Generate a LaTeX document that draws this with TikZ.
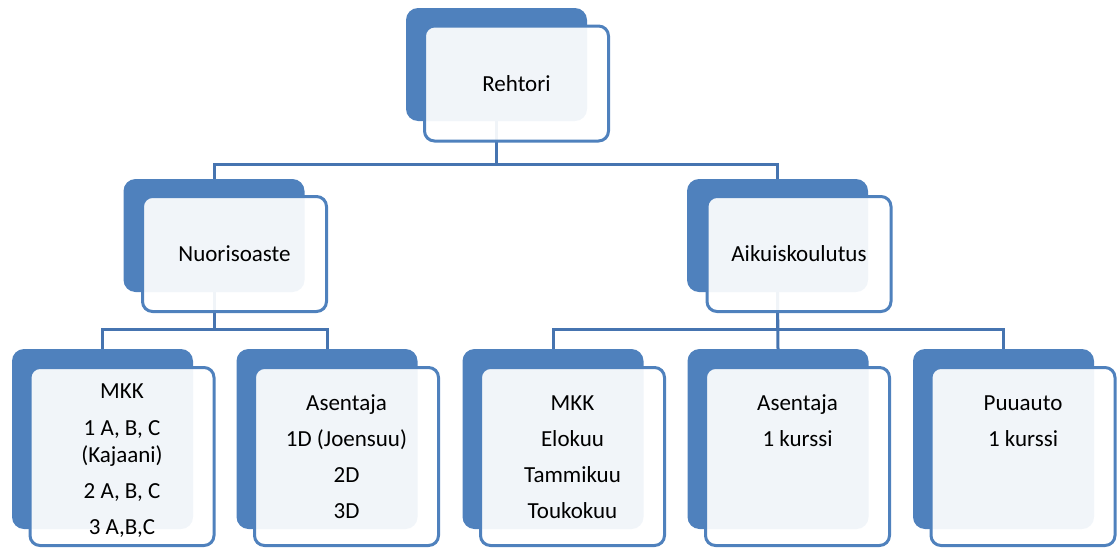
\documentclass[tikz,border=0pt]{standalone}
\usepackage{fontspec}
\setmainfont{Carlito}
\definecolor{boxblue}{HTML}{4F81BD}
\definecolor{linkblue}{HTML}{4674B0}
\pgfdeclarelayer{bg}
\pgfsetlayers{bg,main}
\tikzset{
  backbox/.style={fill=boxblue, draw=none, rounded corners=12pt, inner sep=0pt, minimum width=181pt},
  frontbox/.style={fill=white, fill opacity=0.92, text opacity=1, draw=boxblue, line width=3pt,
    rounded corners=10pt, inner sep=0pt, minimum width=184pt, font=\fontsize{23}{26}\selectfont},
  body/.style={anchor=north, align=center, inner sep=0pt,
    font=\fontsize{23}{26}\selectfont},
  link/.style={draw=linkblue, line width=3pt},
}
\begin{document}
\begin{tikzpicture}[x=1pt,y=-1pt]
\useasboundingbox (0,0) rectangle (1120,549);

% top level
\node[backbox, minimum height=113pt] (rB) at (496.5,64.5) {};
\node[frontbox, minimum height=115pt] (r) at (516.5,83.5) {Rehtori};

% second level
\node[backbox, minimum height=113pt] (nB) at (214,235.5) {};
\node[frontbox, minimum height=115pt] (n) at (234.5,254) {Nuorisoaste};
\node[backbox, minimum height=113pt] (aB) at (777.5,235.5) {};
\node[frontbox, minimum height=115pt] (a) at (799,254) {Aikuiskoulutus};

% third level
\foreach \i/\x in {1/102.5, 2/327, 3/553, 4/778, 5/1003.5} {
  \node[backbox, minimum height=180pt] (b\i) at (\x,439) {};
  \node[frontbox, minimum height=178pt] (f\i) at (\x+19.5,456.5) {};
}

\node[body, font=\fontsize{23}{27}\selectfont] (t1) at ([yshift=-13pt]f1.north)
  {\strut MKK\\[10pt]1 A, B, C\\(Kajaani)\\[9pt]2 A, B, C\\[9pt]3 A,B,C};
\node[body] (t2) at ([yshift=-26.5pt]f2.north) {\strut Asentaja\\[10pt]1D (Joensuu)\\[10pt]2D\\[10pt]3D};
\node[body] (t3) at ([yshift=-26.5pt]f3.north) {\strut MKK\\[10pt]Elokuu\\[10pt]Tammikuu\\[10pt]Toukokuu};
\node[body] (t4) at ([yshift=-26.5pt]f4.north) {\strut Asentaja\\[10pt]1 kurssi};
\node[body] (t5) at ([yshift=-26.5pt]f5.north) {\strut Puuauto\\[10pt]1 kurssi};

% connectors, behind the boxes
\begin{pgfonlayer}{bg}
\draw[link] (rB.south) -- ++(0,43) -| (nB.north);
\draw[link] (rB.south) -- ++(0,43) -| (aB.north);
\draw[link] (nB.south) -- ++(0,37) -| (b1.north);
\draw[link] (nB.south) -- ++(0,37) -| (b2.north);
\draw[link] (aB.south) -- ++(0,37) -| (b3.north);
\draw[link] (aB.south) -- (b4.north);
\draw[link] (aB.south) -- ++(0,37) -| (b5.north);
\end{pgfonlayer}
\end{tikzpicture}
\end{document}
